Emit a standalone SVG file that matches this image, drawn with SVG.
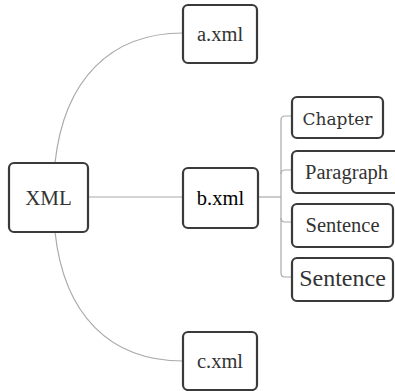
<svg xmlns="http://www.w3.org/2000/svg" width="395" height="391" viewBox="0 0 395 391">
<rect width="395" height="391" fill="#fff"/>
<g id="connectors" fill="none" stroke="#aaa" stroke-width="1.2">
<path d="M55,163 C64,80 110,33 183,33"/>
<path d="M55,232 C64,315 110,361 183,361"/>
<path d="M88,197 H183"/>
<path d="M258,197 H281"/>
<path d="M292,116 H285 Q281,116 281,120 V273 Q281,277 285,277 H292"/>
<path d="M281,174 Q281,170 285,170 H292"/>
<path d="M281,218 Q281,222 285,222 H292"/>
</g>
<g id="nodes">
<g id="xml"><rect x="9" y="163" width="79" height="69" rx="5" fill="#fff" stroke="#3a3a3a" stroke-width="2.2"/><text x="48.5" y="204.5" font-family="Liberation Serif" font-size="21" text-anchor="middle" fill="#333">XML</text></g>
<g id="a"><rect x="183" y="5" width="74" height="58" rx="5" fill="#fff" stroke="#3a3a3a" stroke-width="2.2"/><text x="197" y="41" font-family="Liberation Serif" font-size="20.5" fill="#333">a.xml</text></g>
<g id="b"><rect x="183" y="168" width="75" height="60" rx="5" fill="#fff" stroke="#3a3a3a" stroke-width="2.2"/><text x="220.5" y="205" font-family="Liberation Serif" font-size="20.5" text-anchor="middle">b.xml</text></g>
<g id="c"><rect x="183" y="332" width="74" height="58" rx="5" fill="#fff" stroke="#3a3a3a" stroke-width="2.2"/><text x="220" y="368" font-family="Times New Roman" font-size="20.5" text-anchor="middle" fill="#333">c.xml</text></g>
<g id="chapter"><rect x="292" y="97" width="91" height="41" rx="5" fill="#fff" stroke="#3a3a3a" stroke-width="2.2"/><text x="337.5" y="124.5" font-family="DejaVu Serif" font-size="17" text-anchor="middle" fill="#333">Chapter</text></g>
<g id="paragraph"><rect x="292" y="151" width="108" height="42" rx="5" fill="#fff" stroke="#3a3a3a" stroke-width="2.2"/><text x="305" y="178.5" font-family="serif" font-size="20.5" fill="#333">Paragraph</text></g>
<g id="sentence1"><rect x="292" y="204" width="101" height="43" rx="5" fill="#fff" stroke="#3a3a3a" stroke-width="2.2"/><text x="342.5" y="232" style="font-family:'Liberation Serif';font-size:20.5px" text-anchor="middle" fill="#333">Sentence</text></g>
<g id="sentence2"><rect x="292" y="258" width="101" height="43" rx="5" fill="#fff" stroke="#3a3a3a" stroke-width="2.2"/></g>
</g>
<text x="342.5" y="286" font-family="Liberation Serif" font-size="24" text-anchor="middle" fill="#333">Sentence</text>
</svg>
